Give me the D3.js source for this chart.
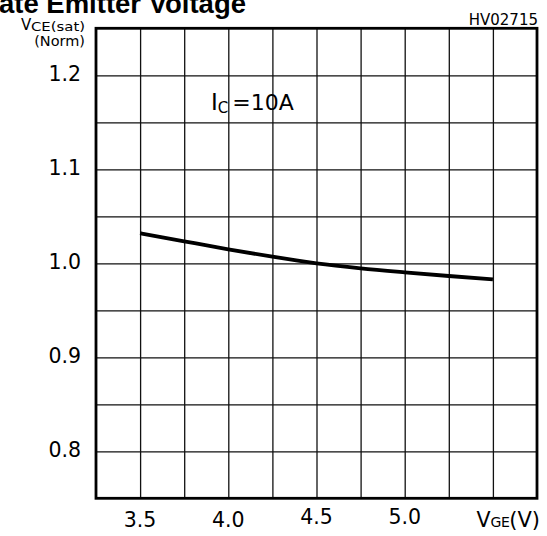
<!DOCTYPE html>
<html lang="en">
<head>
    <meta charset="UTF-8"/>
    <title>VCE(sat) vs VGE</title>
    <style>
        body { margin: 0; background: #fff; }
        svg { display: block; }
        text { font-family: "DejaVu Sans", sans-serif; fill: #000; }
        .title { font-family: "Liberation Sans", Arial, sans-serif; font-weight: bold; font-size: 27.5px; }
        .grid line { stroke: #111; stroke-width: 1.3; }
        .grid path { display: none; }
    </style>
</head>
<body>
<svg width="547" height="536"></svg>
<script src="https://d3js.org/d3.v7.min.js"></script>
<script>
    // curve
    const vge = [3.5, 3.75, 4.0, 4.25, 4.5, 4.75, 5.0, 5.25, 5.5];
    const vceNorm = [1.032, 1.0234, 1.0149, 1.007, 1.0, 0.9947, 0.9904, 0.9865, 0.983];

    const xTicks = [3.5, 4.0, 4.5, 5.0];
    const xTickLabels = ["3.5", "4.0", "4.5", "5.0"];
    const yTicks = [0.8, 0.9, 1.0, 1.1, 1.2];
    const yTickLabels = ["0.8", "0.9", "1.0", "1.1", "1.2"];
    const xDomain = [3.25, 5.75];
    const yDomain = [0.75, 1.25];
    const xGrid = [3.5, 3.75, 4.0, 4.25, 4.5, 4.75, 5.0, 5.25, 5.5];
    const yGrid = [0.8, 0.85, 0.9, 0.95, 1.0, 1.05, 1.1, 1.15, 1.2];

    const plotL = 96, plotR = 537, plotT = 28.3, plotB = 498.3;

    const svg = d3.select("svg");

    const x = d3.scaleLinear().domain(xDomain).range([plotL, plotR]);
    const y = d3.scaleLinear().domain(yDomain).range([plotB, plotT]);

    // grid
    svg.append("g")
        .attr("class", "grid")
        .attr("transform", `translate(0,${plotB})`)
        .call(d3.axisBottom(x).tickValues(xGrid).tickSize(-(plotB - plotT)).tickFormat(""));

    svg.append("g")
        .attr("class", "grid")
        .attr("transform", `translate(${plotL},0)`)
        .call(d3.axisLeft(y).tickValues(yGrid).tickSize(-(plotR - plotL)).tickFormat(""));

    // frame
    svg.append("rect")
        .attr("x", plotL)
        .attr("y", plotT)
        .attr("width", plotR - plotL)
        .attr("height", plotB - plotT)
        .attr("fill", "none")
        .attr("stroke", "#000")
        .attr("stroke-width", 2.8);

    // curve
    const line = d3.line()
        .x((d, i) => x(vge[i]))
        .y(d => y(d))
        .curve(d3.curveMonotoneX);

    svg.append("path")
        .datum(vceNorm)
        .attr("d", line)
        .attr("fill", "none")
        .attr("stroke", "#000")
        .attr("stroke-width", 3.8)
        .attr("stroke-linecap", "butt");

    // tick labels
    svg.append("g")
        .selectAll("text")
        .data(xTicks)
        .join("text")
        .attr("x", d => x(d))
        .attr("y", d => d >= 4.5 ? 524 : 527)
        .attr("text-anchor", "middle")
        .attr("font-size", 20.5)
        .text((d, i) => xTickLabels[i]);

    svg.append("g")
        .selectAll("text")
        .data(yTicks)
        .join("text")
        .attr("x", 81)
        .attr("y", d => y(d) + 5.5)
        .attr("text-anchor", "end")
        .attr("font-size", 20.5)
        .text((d, i) => yTickLabels[i]);

    // titles
    svg.append("text")
        .attr("class", "title")
        .attr("x", 246)
        .attr("y", 13)
        .attr("text-anchor", "end")
        .text("Gate Emitter Voltage");

    const yLab = svg.append("text").attr("x", 21).attr("y", 30);
    yLab.append("tspan").attr("font-size", 15).text("V");
    yLab.append("tspan").attr("x", 31).attr("y", 31)
        .attr("font-size", 12.5)
        .attr("textLength", 54)
        .attr("lengthAdjust", "spacingAndGlyphs")
        .text("CE(sat)");

    svg.append("text")
        .attr("x", 85)
        .attr("y", 45.5)
        .attr("text-anchor", "end")
        .attr("font-size", 14.5)
        .text("(Norm)");

    const xLab = svg.append("text")
        .attr("x", 540)
        .attr("y", 527)
        .attr("text-anchor", "end");
    xLab.append("tspan").attr("font-size", 20.5).text("V");
    xLab.append("tspan").attr("font-size", 14).attr("letter-spacing", -0.5).text("GE");
    xLab.append("tspan").attr("font-size", 21).text("(V)");

    const ic = svg.append("text").attr("x", 211).attr("y", 110);
    ic.append("tspan").attr("font-size", 23).text("I");
    ic.append("tspan").attr("font-size", 15).attr("dy", 3).text("C");
    ic.append("tspan").attr("font-size", 22).attr("dy", -3).attr("dx", 4).text("=10A");

    svg.append("text")
        .attr("x", 538)
        .attr("y", 25)
        .attr("text-anchor", "end")
        .attr("font-size", 15)
        .attr("fill", "#333")
        .text("HV02715");
</script>
</body>
</html>
